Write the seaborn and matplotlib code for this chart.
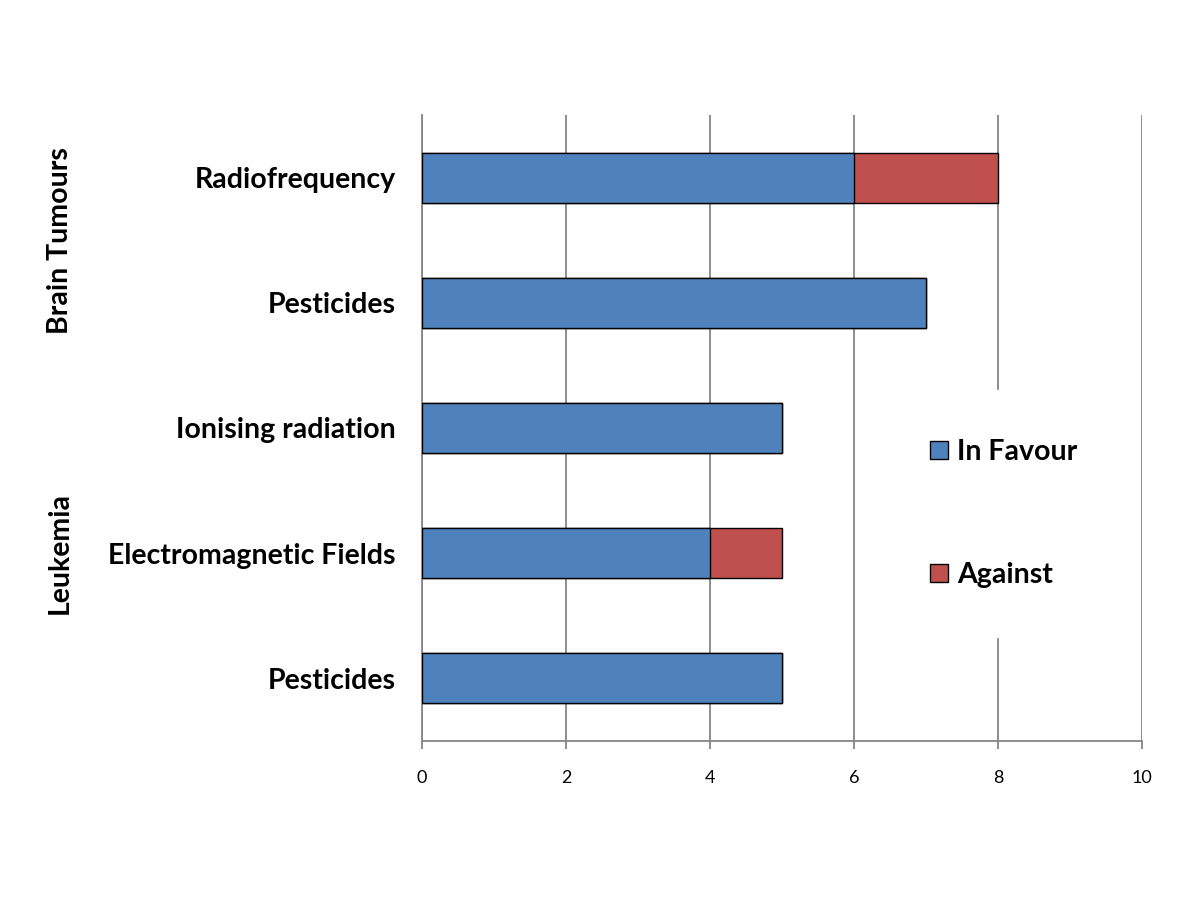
import numpy as np
import pandas as pd
import seaborn as sns
import matplotlib.pyplot as plt
from matplotlib.patches import Patch
import matplotlib.transforms as mtransforms

# data (top row first)
labels = ["Radiofrequency", "Pesticides", "Ionising radiation", "Electromagnetic Fields", "Pesticides"]
in_favour = [6, 7, 5, 4, 5]
against = [2, 0, 0, 1, 0]
groups = ["Brain Tumours", "Leukemia"]
group_rows = [[0, 1], [2, 3, 4]]
x_ticks = [0, 2, 4, 6, 8, 10]

blue = "#4F81BD"
red = "#C0504D"
grey = "#868686"

sns.set_style("white")
plt.rcParams["font.family"] = ["Lato", "DejaVu Sans"]
plt.rcParams["text.color"] = "black"
plt.rcParams["xtick.labelcolor"] = "black"
plt.rcParams["ytick.labelcolor"] = "black"

df = pd.DataFrame({
    "key": [f"{i}_{l}" for i, l in enumerate(labels)],
    "label": labels,
    "in_favour": in_favour,
    "against": against,
})
df["total"] = df["in_favour"] + df["against"]

fig = plt.figure(figsize=(12, 9), dpi=100)
ax = fig.add_axes([0.3517, 0.1767, 0.6, 0.6955])

# stacked look: total in red underneath, in-favour part in blue on top
sns.barplot(data=df, x="total", y="key", orient="h", color=red, saturation=1,
            edgecolor="black", linewidth=1, width=0.4, errorbar=None, ax=ax, zorder=3)
sns.barplot(data=df, x="in_favour", y="key", orient="h", color=blue, saturation=1,
            edgecolor="black", linewidth=1, width=0.4, errorbar=None, ax=ax, zorder=4)

ax.set_xlim(0, 10)
ax.set_ylim(len(labels) - 0.5, -0.5)
ax.set_xticks(x_ticks)
ax.set_xticklabels([str(t) for t in x_ticks], fontsize=13)
ax.set_yticks(range(len(labels)))
ax.set_yticklabels(labels, fontsize=20.5, fontweight="bold")
ax.set_xlabel("")
ax.set_ylabel("")

ax.grid(axis="x", color=grey, linewidth=1.3, zorder=0)
ax.set_axisbelow(True)
for s in ["top", "right"]:
    ax.spines[s].set_visible(False)
for s in ["left", "bottom"]:
    ax.spines[s].set_color(grey)
    ax.spines[s].set_linewidth(1.3)
ax.tick_params(axis="x", direction="out", length=6, width=1.3, color=grey, pad=15, bottom=True)
ax.tick_params(axis="y", length=0, pad=19)

# group labels on the far left
trans = mtransforms.blended_transform_factory(ax.transAxes, ax.transData)
for g, rows in zip(groups, group_rows):
    ax.text(-0.503, np.mean(rows), g, transform=trans, rotation=90,
            ha="center", va="center", fontsize=20.5, fontweight="bold")

handles = [Patch(facecolor=blue, edgecolor="black", linewidth=1),
           Patch(facecolor=red, edgecolor="black", linewidth=1)]
leg = ax.legend(handles, ["In Favour", "Against"], loc="center left",
                bbox_to_anchor=(0.6175, 0.3634), frameon=True, facecolor="white",
                edgecolor="white", framealpha=1, fancybox=False,
                prop={"size": 20.5, "weight": "bold"}, labelspacing=3.4,
                handlelength=0.6, handleheight=0.6, handletextpad=0.35,
                borderpad=1.74)
leg.set_zorder(5)

fig.savefig("out.png", dpi=100)
